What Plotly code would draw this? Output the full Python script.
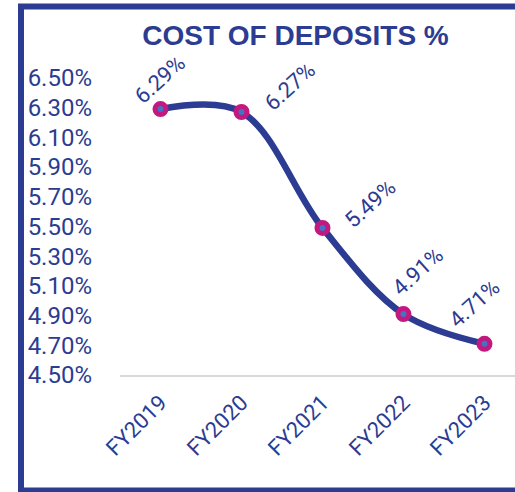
import plotly.graph_objects as go

years = ["FY2019", "FY2020", "FY2021", "FY2022", "FY2023"]
cost_of_deposits = [6.29, 6.27, 5.49, 4.91, 4.71]
y_ticks = [4.5, 4.7, 4.9, 5.1, 5.3, 5.5, 5.7, 5.9, 6.1, 6.3, 6.5]
y_tick_labels = [f"{v:.2f}%" for v in y_ticks]

navy = "#2B3C92"
magenta = "#C2187F"
blue = "#4472C4"

W, H = 515, 492
ml, mr, mt, mb = 120, 0, 63, 117

# pixel -> paper helpers for the frame
def px(x):
    return (x - ml) / (W - ml - mr)

def py(y):
    return (H - mb - y) / (H - mt - mb)

fig = go.Figure()

fig.add_trace(go.Scatter(
    x=years, y=cost_of_deposits,
    mode="lines+markers",
    line=dict(color=navy, width=6.5, shape="spline", smoothing=1.0),
    marker=dict(size=11, color=blue, line=dict(color=magenta, width=5)),
    cliponaxis=False,
    hoverinfo="skip",
))

# data labels, shifted like in the original
shifts = [(-1, -30), (48, -26), (48, -24), (14, -43), (-10, -40)]
for yr, v, (dx, dy) in zip(years, cost_of_deposits, shifts):
    fig.add_annotation(
        x=yr, y=v, text=f"{v:.2f}%", showarrow=False,
        textangle=-42, xshift=dx, yshift=-dy,
        font=dict(family="Roboto", size=22, color=navy),
    )

fig.add_shape(type="rect", xref="paper", yref="paper",
              x0=px(21), x1=px(540), y0=py(490.5), y1=py(6.5),
              line=dict(color=navy, width=6), layer="above")

fig.update_layout(
    width=W, height=H,
    margin=dict(l=ml, r=mr, t=mt, b=mb),
    paper_bgcolor="white", plot_bgcolor="white",
    showlegend=False,
    title=dict(text="<b>COST OF DEPOSITS %</b>", xref="container", yref="container",
               x=295.5 / W, y=1 - 35 / H, xanchor="center", yanchor="middle",
               font=dict(family="Liberation Sans", size=28, color=navy)),
    xaxis=dict(range=[-0.5, 4.377], showgrid=False, zeroline=False,
               showline=True, linecolor="#D9D9D9", linewidth=2,
               tickangle=-45, ticks="", ticklabelstandoff=4,
               tickfont=dict(family="Roboto", size=22, color=navy)),
    yaxis=dict(range=[4.5, 6.6], tickvals=y_ticks, ticktext=y_tick_labels,
               showgrid=False, zeroline=False, showline=False, ticks="",
               ticklabelstandoff=27,
               tickfont=dict(family="Roboto", size=24, color=navy)),
)

fig.write_html("out.html", config={"displayModeBar": False},
               post_script="document.body.style.margin='0';")
